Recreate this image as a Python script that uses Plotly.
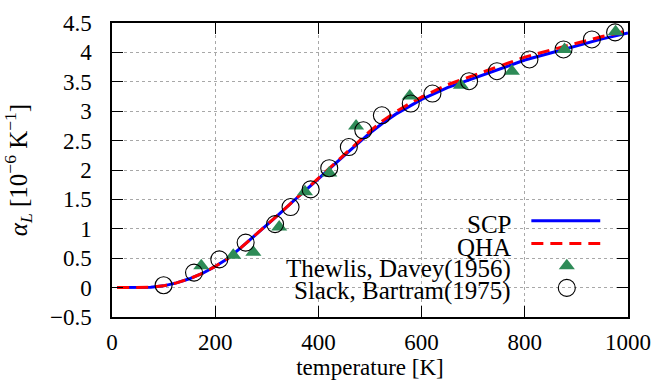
import plotly.graph_objects as go

# ---- data ----
T_curve = [10, 50, 75, 100, 125, 150, 175, 200, 225, 250, 275, 300, 325, 350, 375,
           400, 425, 450, 475, 500, 525, 550, 575, 600, 650, 700, 750, 800, 850,
           900, 950, 1000]
scp = [0.0, 0.0, 0.005, 0.03, 0.08, 0.15, 0.24, 0.36, 0.50, 0.68, 0.87, 1.06, 1.26,
       1.46, 1.65, 1.85, 2.05, 2.25, 2.44, 2.63, 2.80, 2.95, 3.08, 3.20, 3.40, 3.56,
       3.72, 3.87, 3.99, 4.11, 4.23, 4.33]
qha = [0.0, 0.0, 0.005, 0.03, 0.08, 0.15, 0.24, 0.36, 0.50, 0.68, 0.87, 1.06, 1.26,
       1.46, 1.66, 1.86, 2.07, 2.27, 2.47, 2.66, 2.84, 2.99, 3.12, 3.24, 3.45, 3.61,
       3.77, 3.92, 4.04, 4.16, 4.27, 4.37]

thewlis_T = [173, 235, 274, 324, 374, 421, 473, 577, 676, 775, 877, 976]
thewlis_a = [0.37, 0.55, 0.60, 1.03, 1.63, 1.95, 2.75, 3.26, 3.44, 3.68, 4.05, 4.35]

slack_T = [100, 159, 208, 259, 316, 346, 385, 421, 459, 487, 523, 579, 621, 692,
           746, 809, 875, 930, 975]
slack_a = [0.04, 0.255, 0.48, 0.765, 1.08, 1.37, 1.67, 2.03, 2.39, 2.675, 2.93,
           3.13, 3.30, 3.51, 3.68, 3.88, 4.05, 4.22, 4.34]

legend_labels = ["SCP", "QHA", "Thewlis, Davey(1956)", "Slack, Bartram(1975)"]
x_ticks = [0, 200, 400, 600, 800, 1000]
y_ticks = [-0.5, 0, 0.5, 1, 1.5, 2, 2.5, 3, 3.5, 4, 4.5]

FONT = "'Liberation Serif', 'Times New Roman', serif"
BLUE = "#0000ff"
RED = "#ff0000"
GREEN = "#2e8b57"
DASH = "12px,7px"

fig = go.Figure()
fig.add_trace(go.Scatter(x=T_curve, y=scp, mode="lines", line=dict(color=BLUE, width=3),
                         showlegend=False))
fig.add_trace(go.Scatter(x=T_curve, y=qha, mode="lines",
                         line=dict(color=RED, width=3, dash=DASH), showlegend=False))
fig.add_trace(go.Scatter(x=thewlis_T, y=thewlis_a, mode="markers",
                         marker=dict(symbol="triangle-up", size=14, color=GREEN,
                                     line=dict(width=0)), showlegend=False))
fig.add_trace(go.Scatter(x=slack_T, y=slack_a, mode="markers",
                         marker=dict(symbol="circle-open", size=17, color="black",
                                     line=dict(width=1.1, color="black")), showlegend=False))

# ---- manual key (text right, sample left->right like gnuplot) ----
rows = [0.315, 0.238, 0.162, 0.087]
text_x = 0.777
line_x0, line_x1, mark_x = 0.8127, 0.9462, 0.8814
fig.add_trace(go.Scatter(x=[line_x0, line_x1], y=[rows[0] + 0.012] * 2, xaxis="x2",
                         yaxis="y2", mode="lines", line=dict(color=BLUE, width=3),
                         showlegend=False, hoverinfo="skip"))
fig.add_trace(go.Scatter(x=[line_x0, line_x1], y=[rows[1] + 0.012] * 2, xaxis="x2",
                         yaxis="y2", mode="lines", line=dict(color=RED, width=3, dash=DASH),
                         showlegend=False, hoverinfo="skip"))
fig.add_trace(go.Scatter(x=[mark_x], y=[rows[2] + 0.012], xaxis="x2", yaxis="y2",
                         mode="markers",
                         marker=dict(symbol="triangle-up", size=14, color=GREEN),
                         showlegend=False, hoverinfo="skip"))
fig.add_trace(go.Scatter(x=[mark_x], y=[rows[3] + 0.012], xaxis="x2", yaxis="y2",
                         mode="markers",
                         marker=dict(symbol="circle-open", size=17, color="black",
                                     line=dict(width=1.1)),
                         showlegend=False, hoverinfo="skip"))
for lab, ry in zip(legend_labels, rows):
    fig.add_annotation(x=text_x, y=ry, xref="paper", yref="paper", text=lab,
                       showarrow=False, xanchor="right", yanchor="middle",
                       font=dict(family=FONT, size=25, color="black"))

fig.add_shape(type="rect", xref="paper", yref="paper", x0=0.293, x1=0.984,
              y0=0.043, y1=0.356, fillcolor="white", line=dict(width=0), layer="between")

axis_common = dict(showline=True, linecolor="black", linewidth=1.5, mirror="ticks",
                   ticks="inside", ticklen=11, tickwidth=1.3, tickcolor="black",
                   showgrid=True, gridcolor="#a8a8a8", griddash="dot", gridwidth=1,
                   zeroline=False, tickfont=dict(family=FONT, size=23, color="black"))

fig.update_layout(
    width=654, height=385,
    font=dict(family=FONT, color="black", size=22),
    margin=dict(l=112, r=26, t=23, b=68, autoexpand=False),
    paper_bgcolor="white", plot_bgcolor="white",
    xaxis=dict(range=[0, 1000], tickvals=x_ticks, ticktext=[str(v) for v in x_ticks],
               title=dict(text="temperature [K]",
                          font=dict(family=FONT, size=23, color="black"), standoff=0),
               ticklabelstandoff=4, **axis_common),
    yaxis=dict(range=[-0.5, 4.5], tickvals=y_ticks,
               ticktext=[("−" + f"{abs(v):g}") if v < 0 else f"{v:g}" for v in y_ticks],
               title=dict(text="<i>α<sub>L</sub></i> [10<sup>−6</sup> K<sup>−1</sup>]",
                          font=dict(family=FONT, size=25, color="black"), standoff=16),
               ticklabelstandoff=14, **axis_common),
    xaxis2=dict(overlaying="x", range=[0, 1], visible=False, fixedrange=True),
    yaxis2=dict(overlaying="y", range=[0, 1], visible=False, fixedrange=True),
    showlegend=False,
)

fig.write_html("out.html")
